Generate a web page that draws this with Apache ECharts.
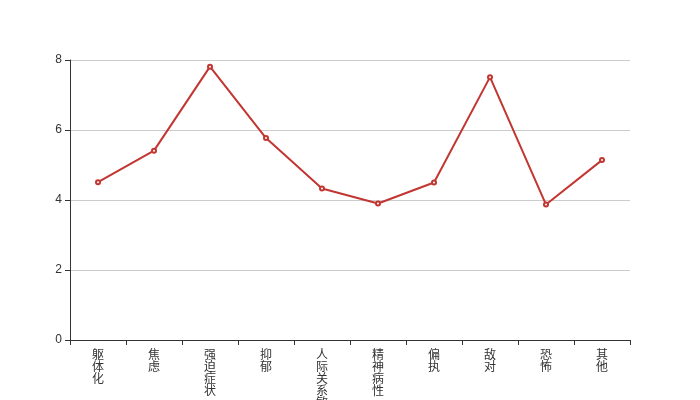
<!DOCTYPE html>
<html><head><meta charset="utf-8">
<script src="https://cdn.jsdelivr.net/npm/echarts@6/dist/echarts.min.js"></script>
<style>html,body{margin:0;padding:0;background:#fff}#c{width:700px;height:400px}</style>
</head><body><div id="c"></div>
<script>
var categories = ['躯体化','焦虑','强迫症状','抑郁','人际关系敏感','精神病性','偏执','敌对','恐怖','其他'];
var values = [4.51, 5.41, 7.81, 5.77, 4.33, 3.90, 4.50, 7.51, 3.87, 5.14];
var yTicks = [0, 2, 4, 6, 8];
var chart = echarts.init(document.getElementById('c'), null, {renderer:'canvas'});
chart.setOption({
  animation: false,
  grid: {left: 70, right: 70, top: 60, bottom: 60, containLabel: false, outerBoundsMode: 'none'},
  xAxis: {
    type: 'category', data: categories, boundaryGap: true,
    axisLine: {show: true, lineStyle: {color: '#333'}},
    axisTick: {show: true, alignWithLabel: false, lineStyle: {color: '#333'}},
    axisLabel: {
      interval: 0, color: '#333', fontSize: 12, lineHeight: 12, margin: 8,
      fontFamily: 'Noto Sans CJK SC',
      formatter: function (v) { return v.split('').join('\n'); }
    }
  },
  yAxis: {
    type: 'value', min: yTicks[0], max: yTicks[yTicks.length-1], interval: 2,
    axisLine: {show: true, lineStyle: {color: '#333'}},
    axisTick: {show: true, lineStyle: {color: '#333'}},
    axisLabel: {color: '#333', fontSize: 12},
    splitLine: {show: true, lineStyle: {color: '#ccc'}}
  },
  series: [{
    type: 'line', data: values,
    symbol: 'emptyCircle', symbolSize: 4,
    lineStyle: {color: '#c23531', width: 2},
    itemStyle: {color: '#c23531'}
  }]
});
</script></body></html>
